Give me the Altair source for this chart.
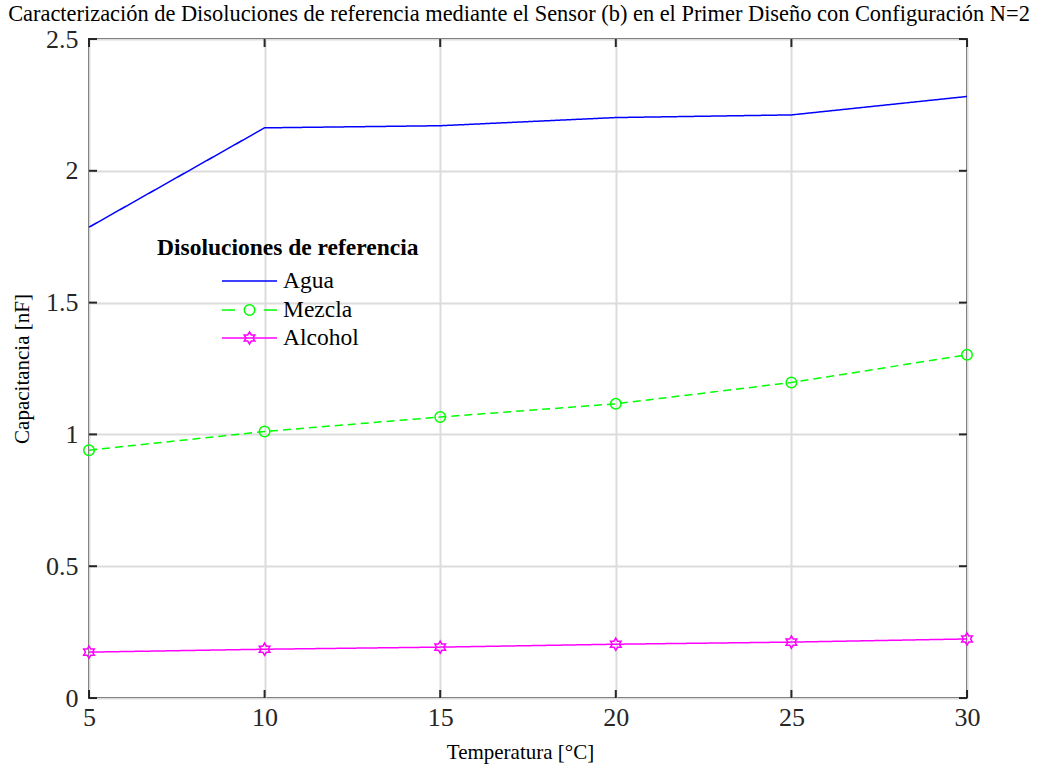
import altair as alt
import pandas as pd

# Temperature sweep and measured capacitance for each reference solution
temperatura = [5, 10, 15, 20, 25, 30]
agua = [1.786, 2.163, 2.171, 2.202, 2.212, 2.282]
mezcla = [0.940, 1.011, 1.066, 1.116, 1.197, 1.302]
alcohol = [0.174, 0.185, 0.193, 0.204, 0.212, 0.224]

series = ["Agua", "Mezcla", "Alcohol"]
colores = ["#0000FF", "#00FF00", "#FF00FF"]
trazos = [[1, 0], [8, 5], [1, 0]]

x_ticks = [5, 10, 15, 20, 25, 30]
y_ticks = [0, 0.5, 1, 1.5, 2, 2.5]

FONT = "Liberation Serif"
W, H = 878, 659

HEXAGRAM = ("M0,-1L0.289,-0.5L0.866,-0.5L0.577,0L0.866,0.5L0.289,0.5L0,1"
            "L-0.289,0.5L-0.866,0.5L-0.577,0L-0.866,-0.5L-0.289,-0.5Z")

rows = []
for name, vals in zip(series, [agua, mezcla, alcohol]):
    for t, v in zip(temperatura, vals):
        rows.append({"Temperatura": t, "Capacitancia": v, "Serie": name})
df = pd.DataFrame(rows)

x_scale = alt.Scale(domain=[5, 30], nice=False, zero=False)
y_scale = alt.Scale(domain=[0, 2.5], nice=False)
color_scale = alt.Scale(domain=series, range=colores)

x_enc = alt.X(
    "Temperatura:Q", scale=x_scale,
    axis=alt.Axis(values=x_ticks, title="Temperatura [°C]", format="~g",
                  ticks=False, domain=False, grid=True, labelFlush=False,
                  titleX=431, titleY=54, titleBaseline="middle",
                  labelPadding=6),
)
y_enc = alt.Y(
    "Capacitancia:Q", scale=y_scale,
    axis=alt.Axis(values=y_ticks, title="Capacitancia [nF]", format="~g",
                  ticks=False, domain=False, grid=True, labelFlush=False,
                  titleX=-67, titleY=H / 2, titleAngle=-90,
                  titleAlign="center", titleBaseline="middle",
                  labelPadding=11),
)

lines = alt.Chart(df).mark_line(strokeWidth=1.5).encode(
    x=x_enc,
    y=y_enc,
    color=alt.Color("Serie:N", scale=color_scale, legend=None),
    strokeDash=alt.StrokeDash("Serie:N",
                              scale=alt.Scale(domain=series, range=trazos),
                              legend=None),
)

points = alt.Chart(df).transform_filter(
    alt.FieldOneOfPredicate(field="Serie", oneOf=["Mezcla", "Alcohol"])
).mark_point(filled=False, strokeWidth=1.5, opacity=1).encode(
    x="Temperatura:Q",
    y="Capacitancia:Q",
    color=alt.Color("Serie:N", scale=color_scale, legend=None),
    shape=alt.Shape("Serie:N",
                    scale=alt.Scale(domain=["Mezcla", "Alcohol"],
                                    range=["circle", HEXAGRAM]),
                    legend=None),
    size=alt.Size("Serie:N",
                  scale=alt.Scale(domain=["Mezcla", "Alcohol"], range=[110, 150]),
                  legend=None),
)

# Inward tick marks on all four sides of the frame
xt = pd.DataFrame({"t": x_ticks})
yt = pd.DataFrame({"v": y_ticks})
tick_style = dict(color="#262626", strokeWidth=2)
ticks_bottom = alt.Chart(xt).mark_rule(**tick_style).encode(
    x=alt.X("t:Q", scale=x_scale), y=alt.value(H), y2=alt.value(H - 8))
ticks_top = alt.Chart(xt).mark_rule(**tick_style).encode(
    x=alt.X("t:Q", scale=x_scale), y=alt.value(0), y2=alt.value(8))
ticks_left = alt.Chart(yt).mark_rule(**tick_style).encode(
    y=alt.Y("v:Q", scale=y_scale), x=alt.value(0), x2=alt.value(8))
ticks_right = alt.Chart(yt).mark_rule(**tick_style).encode(
    y=alt.Y("v:Q", scale=y_scale), x=alt.value(W), x2=alt.value(W - 8))

# Legend block drawn inside the axes
leg_title = alt.Chart(pd.DataFrame({"t": ["Disoluciones de referencia"]})).mark_text(
    font=FONT, fontSize=23.5, fontWeight="bold", align="left", baseline="middle",
    color="black",
).encode(text="t:N", x=alt.value(68), y=alt.value(209))

legend_layers = [leg_title]
leg_y = [242, 271, 299]
for i, name in enumerate(series):
    d = pd.DataFrame({"Serie": [name]})
    if name == "Mezcla":
        # short dash, marker, short dash
        for a, b in [(133, 146), (175, 188)]:
            legend_layers.append(
                alt.Chart(d).mark_rule(color=colores[i], strokeWidth=1.5).encode(
                    x=alt.value(a), x2=alt.value(b), y=alt.value(leg_y[i]))
            )
    else:
        legend_layers.append(
            alt.Chart(d).mark_rule(color=colores[i], strokeWidth=1.5).encode(
                x=alt.value(133), x2=alt.value(188), y=alt.value(leg_y[i]))
        )
    if name in ("Mezcla", "Alcohol"):
        legend_layers.append(
            alt.Chart(d).mark_point(filled=False, strokeWidth=1.5, opacity=1,
                                    color=colores[i],
                                    shape="circle" if name == "Mezcla" else HEXAGRAM,
                                    size=110 if name == "Mezcla" else 150).encode(
                x=alt.value(160.5), y=alt.value(leg_y[i]))
        )
    legend_layers.append(
        alt.Chart(d).mark_text(font=FONT, fontSize=23.5, align="left",
                               baseline="middle", color="black").encode(
            text="Serie:N", x=alt.value(194), y=alt.value(leg_y[i]))
    )

chart = alt.layer(
    lines, points, ticks_bottom, ticks_top, ticks_left, ticks_right,
    *legend_layers,
).properties(
    width=W,
    height=H,
    background="white",
    autosize=alt.AutoSizeParams(type="none"),
    padding={"left": 89, "top": 39, "right": 71, "bottom": 68},
    title=alt.TitleParams(
        "Caracterización de Disoluciones de referencia mediante el Sensor (b) en el Primer Diseño con Configuración N=2",
        font=FONT, fontSize=22.4, fontWeight="normal", color="black",
        anchor="middle", dx=-9, dy=3, offset=4,
    ),
).configure_view(
    stroke="#262626", strokeWidth=2,
).configure_axis(
    labelFont=FONT, labelFontSize=26, labelColor="#262626",
    titleFont=FONT, titleFontSize=21, titleFontWeight="normal",
    titleColor="black",
    gridColor="#dcdcdc", gridWidth=2,
)

chart.save("out.html", embed_options={"renderer": "svg", "actions": False})
